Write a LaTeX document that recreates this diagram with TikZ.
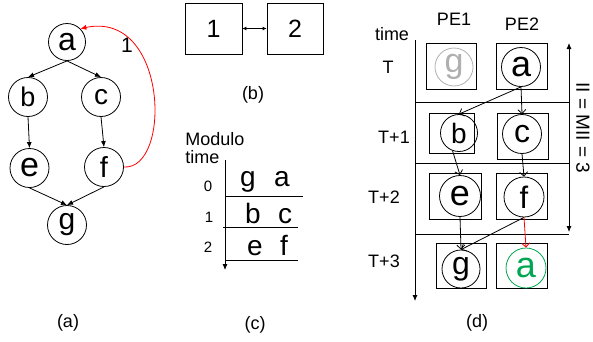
\documentclass[tikz,border=0pt]{standalone}
\usepackage{fontspec}
\setmainfont{Liberation Sans}
\usetikzlibrary{arrows.meta}
\newcommand\myfs[1]{\fontsize{#1}{#1}\selectfont}
\definecolor{pgray}{RGB}{175,175,175}
\definecolor{pgreen}{RGB}{0,166,80}
\begin{document}
\begin{tikzpicture}[x=1pt,y=-1pt,line width=0.8pt,
  nd/.style={circle,draw,inner sep=0pt,minimum size=39pt},
  bx/.style={draw,rectangle,inner sep=0pt},
  lbl/.style={inner sep=0pt,font=\myfs{18}},
  farr/.style={-{Latex[length=6pt,width=5pt]}},
  oarr/.style={-{Straight Barb[length=4pt,width=8pt]}}]
\useasboundingbox (0,0) rectangle (593,341);
% ---------- (a)
\node[nd,minimum size=37pt,font=\myfs{32}] (a) at (67,42) {a};
\node[nd,font=\myfs{27}] (b) at (28,97) {b};
\node[nd,font=\myfs{28}] (c) at (101,97) {c};
\node[nd,font=\myfs{34}] (e) at (29.5,168) {e};
\node[nd,font=\myfs{29}] (f) at (104,167) {f};
\node[nd,font=\myfs{30}] (g) at (67,225) {g};
\draw[farr] (a.south) -- (b.north);
\draw[farr] (a.south) -- (c.north);
\draw[farr] (b.south) -- (e.north);
\draw[farr] (c.south) -- (f.north);
\draw[farr] (e.south) -- (g.north);
\draw[farr] (f.south) -- (g.north);
\draw[red,-{Latex[length=6pt,width=5pt]}] (f.east) .. controls (172,170) and (168,10) .. (a.north east);
\node[lbl,font=\myfs{21}] (one) at (127,45) {1};
\node[lbl] (capa) at (68,323) {(a)};
% ---------- (b)
\node[bx,minimum width=57pt,minimum height=51pt,font=\myfs{25}] (p1) at (213.5,28.5) {1};
\node[bx,minimum width=56pt,minimum height=51pt,font=\myfs{25}] (p2) at (295,28.5) {2};
\draw[{Latex[length=4pt,width=4pt]}-{Latex[length=4pt,width=4pt]}] (p1.east) -- (p2.east -| p2.west);
\node[lbl] (capb) at (253,95) {(b)};
% ---------- (c)
\node[lbl,anchor=west] (mod) at (185,139) {Modulo};
\node[lbl,anchor=west] (mt) at (185,157) {time};
\coordinate (ct) at (225,160);
\coordinate (cb) at (225,270);
\draw[-{Latex[length=6pt,width=5pt]}] (ct) -- (cb);
\coordinate (l1a) at (225,196); \coordinate (l1b) at (303,196);
\coordinate (l2a) at (223,227); \coordinate (l2b) at (298,227);
\coordinate (l3a) at (225,260); \coordinate (l3b) at (298,260);
\draw (l1a) -- (l1b); \draw (l2a) -- (l2b); \draw (l3a) -- (l3b);
\node[lbl,font=\myfs{15}] (m0) at (208,186) {0};
\node[lbl,font=\myfs{15}] (m1) at (209,217) {1};
\node[lbl,font=\myfs{15}] (m2) at (208,247) {2};
\begin{scope}[every node/.style={inner sep=0pt,anchor=base,font=\myfs{28}}]
\node (cg) at (248,186) {g};
\node (ca) at (282,186) {a};
\node (cbb) at (253,223) {b};
\node (cc) at (285,223) {c};
\node (ce) at (255,255) {e};
\node (cf) at (284,255) {f};
\end{scope}
\node[lbl] (capc) at (255,325) {(c)};
% ---------- (d)
\node[lbl] (dtime) at (392,34) {time};
\node[lbl] (tT) at (388,67) {T};
\node[lbl] (t1) at (394,137) {T+1};
\node[lbl] (t2) at (384,197) {T+2};
\node[lbl] (t3) at (384,261) {T+3};
\node[lbl] (pe1) at (454,19) {PE1};
\node[lbl] (pe2) at (522,24) {PE2};
\coordinate (dt) at (415,40);
\coordinate (db) at (415,301);
\draw[-{Latex[length=6pt,width=5pt]}] (dt) -- (db);
\coordinate (h1a) at (415,102); \coordinate (h1b) at (569,102);
\coordinate (h2a) at (415,163); \coordinate (h2b) at (569,163);
\coordinate (h3a) at (415,234); \coordinate (h3b) at (569,234);
\draw (h1a) -- (h1b); \draw (h2a) -- (h2b); \draw (h3a) -- (h3b);
\coordinate (it) at (569,43);
\coordinate (ib) at (569,232);
\draw[{Latex[length=6pt,width=5pt]}-{Latex[length=6pt,width=5pt]}] (it) -- (ib);
\node[lbl,font=\myfs{19},rotate=-90] (ii) at (583,128) {II = MII = 3};
% boxes
\node[bx,minimum width=50pt,minimum height=46pt] (bg0) at (451,66) {};
\node[bx,minimum width=51pt,minimum height=46pt] (ba0) at (521.5,66) {};
\node[bx,minimum width=45pt,minimum height=40pt] (bb) at (451.5,133) {};
\node[bx,minimum width=51pt,minimum height=46pt] (bc) at (522.5,136) {};
\node[bx,minimum width=52pt,minimum height=46pt] (be) at (455,196) {};
\node[bx,minimum width=51pt,minimum height=46pt] (bf) at (521.5,196) {};
\node[bx,minimum width=50pt,minimum height=45pt] (bg) at (461,265.5) {};
\node[bx,minimum width=51pt,minimum height=45pt] (ba) at (521.5,265.5) {};
% circles
\node[nd,draw=pgray,text=pgray,minimum size=38pt,font=\myfs{34}] (dg0) at (454,67) {g};
\node[nd,minimum size=39pt,font=\myfs{36}] (da0) at (521,67) {a};
\node[nd,minimum size=37pt,font=\myfs{28}] (db1) at (459,133) {b};
\node[nd,minimum size=39pt,font=\myfs{32}] (dc) at (522,134) {c};
\node[nd,minimum size=41pt,font=\myfs{36}] (de) at (460,196) {e};
\node[nd,minimum size=40pt,font=\myfs{31}] (df) at (524,197) {f};
\node[nd,minimum size=38pt,font=\myfs{32}] (dg) at (461,269) {g};
\node[nd,draw=pgreen,text=pgreen,minimum size=40pt,font=\myfs{36}] (da) at (526,268) {a};
\draw[oarr] (da0.south) -- (db1.north);
\draw[oarr] (da0.south) -- (dc.north);
\draw[oarr] (db1.-110) -- (de.north);
\draw[oarr] (dc.south) -- (df.north);
\draw[oarr] (de.south) -- (dg.north);
\draw[oarr] (df.south) -- (dg.north);
\draw[oarr,red] (df.south) -- (da.north);
\node[lbl] (capd) at (477,323) {(d)};
\end{tikzpicture}
\end{document}
